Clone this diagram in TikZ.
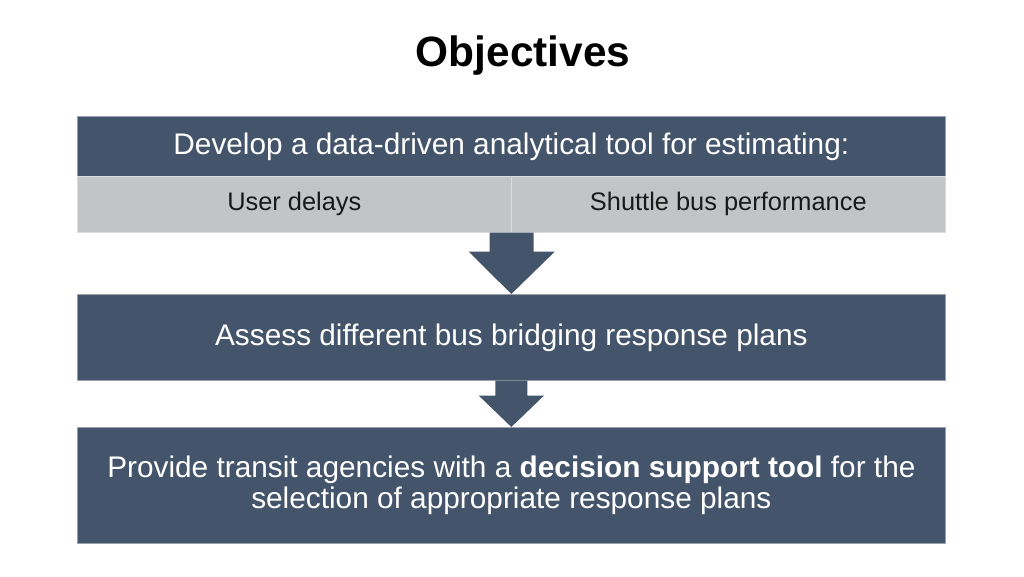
\documentclass[tikz,border=0pt]{standalone}
\usepackage{fontspec}
\setmainfont{Liberation Sans}
\usetikzlibrary{calc}
\definecolor{slate}{HTML}{44546A}
\definecolor{lgray}{HTML}{C2C5C8}
\begin{document}
\begin{tikzpicture}[x=1pt,y=-1pt,
  box/.style={fill=slate, draw=slate!55!white, line width=0.7pt, text=white, inner sep=0pt, anchor=north west, align=center, minimum width=868pt},
  cell/.style={fill=lgray, draw=lgray!60!white, line width=0.7pt, text=black!90, inner sep=0pt, anchor=north west, minimum width=434pt, minimum height=56pt, font=\fontsize{25.4}{30}\selectfont},
  blockarrow/.style={fill=slate}]
\useasboundingbox (0,0) rectangle (1024,576);
\node[font=\bfseries\fontsize{42.4}{50}\selectfont] (title) at (523,56) {Objectives};
\node[box, minimum height=60pt, font=\fontsize{29.8}{34}\selectfont] (head) at (77,116) {\raisebox{-3pt}{Develop a data-driven analytical tool for estimating:}};
\node[cell] (left) at (77,176) {\raisebox{-2pt}{User delays}};
\node[cell] (right) at (511,176) {\raisebox{-2pt}{Shuttle bus performance}};
\node[box, minimum height=86pt, font=\fontsize{29.8}{34}\selectfont] (assess) at (77,294) {Assess different bus bridging response plans};
\node[box, minimum height=116pt, font=\fontsize{29.8}{31}\selectfont] (provide) at (77,427) {Provide transit agencies with a \textbf{decision support tool} for the\\selection of appropriate response plans};
\coordinate (a1) at (left.south east);
\fill[blockarrow] ($(a1)+(-22,0)$) -- ++(0,19) -- ++(-21,0) -- (assess.north) -- ($(a1)+(43,19)$) -- ++(-21,0) -- ++(0,-19) -- cycle;
\fill[blockarrow] ($(assess.south)+(-16,0)$) -- ++(0,15) -- ++(-16.5,0) -- (provide.north) -- ($(assess.south)+(32.5,15)$) -- ++(-16.5,0) -- ++(0,-15) -- cycle;
\end{tikzpicture}
\end{document}
